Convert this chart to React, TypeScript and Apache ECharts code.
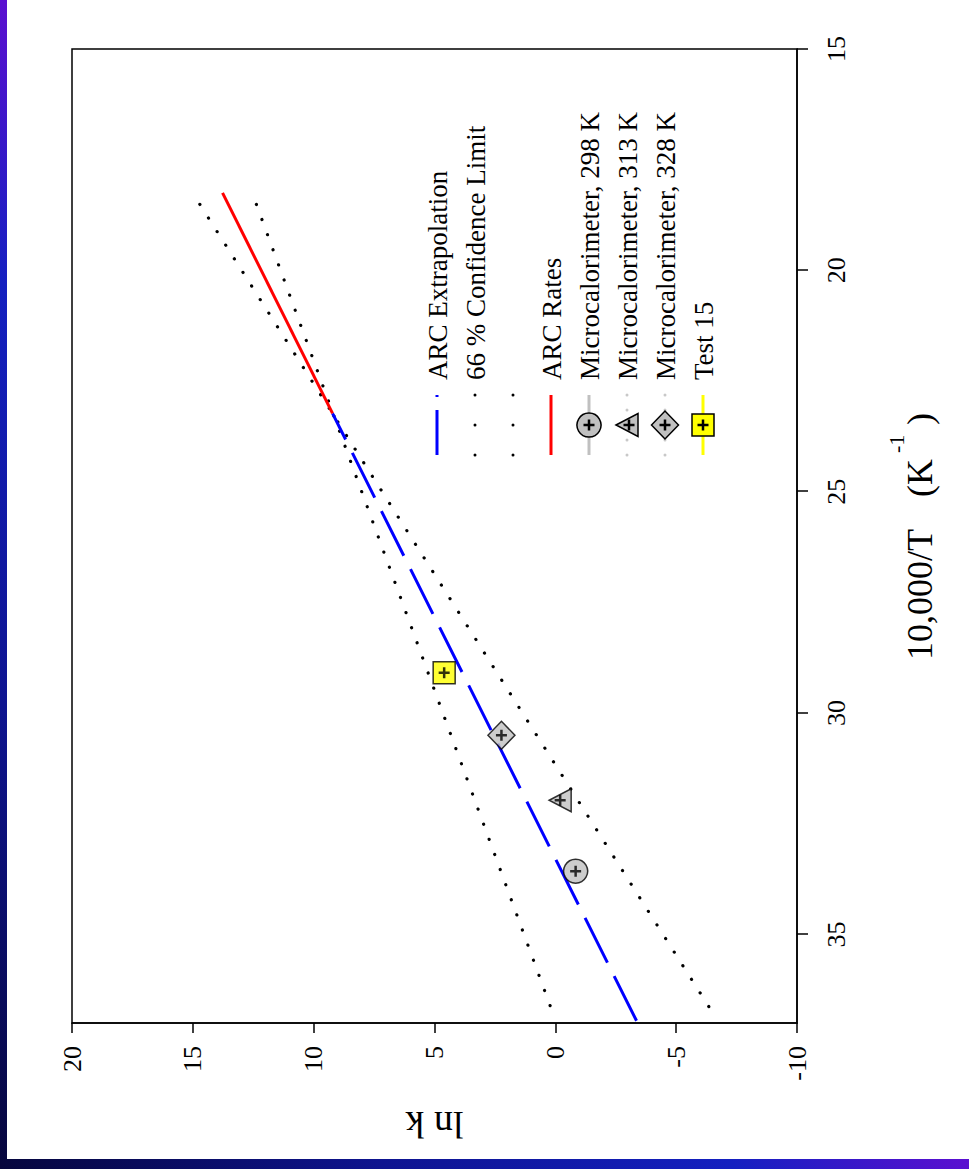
import React, { useEffect, useRef } from "react";
import * as echarts from "echarts";

// ---- data (10,000/T in K^-1, ln k) ----
const xTicks = [15, 20, 25, 30, 35];
const yTicks = [-10, -5, 0, 5, 10, 15, 20];

const arcRatesX = [18.25, 23.23];
const arcRatesLnK = [13.77, 9.22];

const arcExtrapX = [36.95, 23.23];
const arcExtrapLnK = [-3.36, 9.22];

const confUpperX = [18.51, 36.93];
const confUpperLnK = [14.71, -6.7];

const confLowerX = [18.51, 36.93];
const confLowerLnK = [12.37, 0.0];

const micro298 = [33.57, -0.84];
const micro313 = [31.97, -0.2];
const micro328 = [30.5, 2.23];
const test15 = [29.09, 4.6];

const legendLabels = [
  "ARC Extrapolation",
  "66 % Confidence Limit",
  "",
  "ARC Rates",
  "Microcalorimeter, 298 K",
  "Microcalorimeter, 313 K",
  "Microcalorimeter, 328 K",
  "Test 15",
];

// ---- layout (unrotated chart; the div is rotated -90deg) ----
const W = 1159;
const H = 962;
const SERIF = "Liberation Serif";

const zip = (xs: number[], ys: number[]) => xs.map((x, i) => [x, ys[i]]);

const PLUS = "path://M4.25,0h2.5v4.25h4.25v2.5h-4.25v4.25h-2.5v-4.25h-4.25v-2.5h4.25z";

function buildLegend() {
  const els: any[] = [];
  const top = 430;
  const step = 38;
  const u0 = 704;
  const u1 = 764;
  const uc = 734;
  const tx = 779;
  const plus = (v: number) => [
    { type: "rect", z: 30, shape: { x: uc - 5.5, y: v - 1.25, width: 11, height: 2.5 }, style: { fill: "#000" } },
    { type: "rect", z: 30, shape: { x: uc - 1.25, y: v - 5.5, width: 2.5, height: 11 }, style: { fill: "#000" } },
  ];
  legendLabels.forEach((label, i) => {
    const v = top + i * step;
    if (label) {
      els.push({
        type: "text",
        x: tx,
        y: v + 1,
        z: 30,
        style: {
          text: label,
          fontSize: 27,
          fontFamily: SERIF,
          fill: "#000",
          align: "left",
          verticalAlign: "middle",
          textAlign: "left",
          textVerticalAlign: "middle",
        },
      });
    }
    const line = (stroke: string, dash: any, cap = "butt", end = u1) => ({
      type: "line",
      z: 20,
      shape: { x1: u0, y1: v, x2: end, y2: v },
      style: { stroke, lineWidth: 3, lineDash: dash, lineCap: cap },
    });
    if (i === 0) els.push(line("#0000ff", [45, 13]));
    if (i === 1 || i === 2) els.push(line("#000", [0.1, 29.9], "round", u1 + 1));
    if (i === 3) els.push(line("#ff0000", null));
    if (i === 4) {
      els.push(line("#c0c0c0", null));
      els.push({ type: "circle", z: 25, shape: { cx: uc, cy: v, r: 12 }, style: { fill: "#c0c0c0", stroke: "#000", lineWidth: 1.5 } });
      els.push(...plus(v));
    }
    if (i === 5) {
      els.push(line("#c8c8c8", [0.1, 14.9], "round", u1 + 1));
      els.push({
        type: "polygon",
        z: 25,
        shape: { points: [[uc, v - 11], [uc + 11.5, v + 11], [uc - 11.5, v + 11]] },
        style: { fill: "#c0c0c0", stroke: "#000", lineWidth: 1.5 },
      });
      els.push(...plus(v + 2));
    }
    if (i === 6) {
      els.push(line("#c8c8c8", [0.1, 14.9], "round", u1 + 1));
      els.push({
        type: "polygon",
        z: 25,
        shape: { points: [[uc, v - 13.5], [uc + 14, v], [uc, v + 13.5], [uc - 14, v]] },
        style: { fill: "#c0c0c0", stroke: "#000", lineWidth: 1.5 },
      });
      els.push(...plus(v));
    }
    if (i === 7) {
      els.push(line("#ffff00", null));
      els.push({ type: "rect", z: 25, shape: { x: uc - 11, y: v - 11, width: 22, height: 22 }, style: { fill: "#ffff00", stroke: "#000", lineWidth: 1.5 } });
      els.push(...plus(v));
    }
  });
  return els;
}

function buildXName() {
  const base = { fill: "#000", fontFamily: SERIF, align: "left", verticalAlign: "middle", textAlign: "left", textVerticalAlign: "middle" };
  return [
    { type: "text", x: 499, y: 913, z: 30, style: { ...base, text: "10,000/T", fontSize: 36 } },
    { type: "text", x: 662, y: 913, z: 30, style: { ...base, text: "(K", fontSize: 36 } },
    { type: "text", x: 706, y: 889, z: 30, style: { ...base, text: "-1", fontSize: 22 } },
    { type: "text", x: 734, y: 913, z: 30, style: { ...base, text: ")", fontSize: 36 } },
  ];
}

export default function App() {
  const ref = useRef<HTMLDivElement>(null);
  useEffect(() => {
    if (!ref.current) return;
    const chart = echarts.init(ref.current, null, { renderer: "svg", width: W, height: H });
    const axisLine = { show: true, onZero: false, lineStyle: { color: "#000", width: 1.5 } };
    const labelStyle = { fontSize: 26, fontFamily: SERIF, color: "#000" };
    const markerStyle = { color: "#c0c0c0", borderColor: "#000", borderWidth: 1.5 };
    const dotted = { color: "#000", width: 3.2, type: [0.1, 16], cap: "round" };
    chart.setOption({
      animation: false,
      backgroundColor: "#ffffff",
      grid: {
        left: 136,
        right: 49,
        top: 65,
        bottom: 172,
        show: true,
        borderColor: "#000",
        borderWidth: 1.5,
        backgroundColor: "transparent",
        containLabel: false,
        outerBoundsMode: "none",
      },
      xAxis: {
        type: "value",
        min: 15,
        max: 37,
        interval: 5,
        inverse: true,
        position: "bottom",
        axisLine,
        axisTick: { show: true, inside: false, length: 11, lineStyle: { color: "#000", width: 1.5 }, customValues: xTicks },
        axisLabel: { ...labelStyle, margin: 26, customValues: xTicks, showMinLabel: true, showMaxLabel: true },
        splitLine: { show: false },
      },
      yAxis: {
        type: "value",
        min: -10,
        max: 20,
        interval: 5,
        position: "left",
        axisLine,
        axisTick: { show: true, inside: false, length: 10, lineStyle: { color: "#000", width: 1.5 }, customValues: yTicks },
        axisLabel: { ...labelStyle, margin: 23, customValues: yTicks },
        splitLine: { show: false },
        name: "ln k",
        nameLocation: "middle",
        nameRotate: 90,
        nameGap: 83,
        nameMoveOverlap: false,
        nameTextStyle: { fontSize: 38, fontFamily: SERIF, color: "#000" },
      },
      series: [
        {
          name: "66 % Confidence Limit",
          type: "line",
          data: zip(confUpperX, confUpperLnK),
          symbol: "none",
          showSymbol: false,
          lineStyle: dotted,
          z: 2,
        },
        {
          name: "66 % Confidence Limit (2)",
          type: "line",
          data: zip(confLowerX, confLowerLnK),
          symbol: "none",
          showSymbol: false,
          lineStyle: dotted,
          z: 2,
        },
        {
          name: "ARC Extrapolation",
          type: "line",
          data: zip(arcExtrapX, arcExtrapLnK),
          symbol: "none",
          showSymbol: false,
          lineStyle: { color: "#0000ff", width: 3, type: [50, 15] },
          z: 3,
        },
        {
          name: "ARC Rates",
          type: "line",
          data: zip(arcRatesX, arcRatesLnK),
          symbol: "none",
          showSymbol: false,
          lineStyle: { color: "#ff0000", width: 3 },
          z: 3,
        },
        { name: "Microcalorimeter, 298 K", type: "scatter", data: [micro298], symbol: "circle", symbolSize: 24, itemStyle: markerStyle, z: 4 },
        { name: "Microcalorimeter, 313 K", type: "scatter", data: [micro313], symbol: "triangle", symbolSize: [23, 22], itemStyle: markerStyle, z: 4 },
        { name: "Microcalorimeter, 328 K", type: "scatter", data: [micro328], symbol: "diamond", symbolSize: [28, 27], itemStyle: markerStyle, z: 4 },
        {
          name: "Test 15",
          type: "scatter",
          data: [test15],
          symbol: "rect",
          symbolSize: 22,
          itemStyle: { color: "#ffff00", borderColor: "#000", borderWidth: 1.5 },
          z: 4,
        },
        {
          name: "marker cross",
          type: "scatter",
          data: [micro298, micro313, micro328, test15],
          symbol: PLUS,
          symbolSize: 11,
          itemStyle: { color: "#000" },
          silent: true,
          z: 5,
        },
      ],
      graphic: { elements: [...buildLegend(), ...buildXName()] },
    });
    return () => chart.dispose();
  }, []);

  return (
    <div
      style={{
        position: "absolute",
        left: 0,
        top: 0,
        width: 969,
        height: 1169,
        overflow: "hidden",
        background:
          "linear-gradient(to top right, #06063c 0%, #0e1490 20%, #1420c0 38%, #5a10d0 50%, #8000e0 100%)",
      }}
    >
      <div
        ref={ref}
        style={{
          position: "absolute",
          left: 0,
          top: 0,
          width: W,
          height: H,
          transformOrigin: "0 0",
          transform: "translate(7px, 1159px) rotate(-90deg)",
          background: "#fff",
        }}
      />
    </div>
  );
}
